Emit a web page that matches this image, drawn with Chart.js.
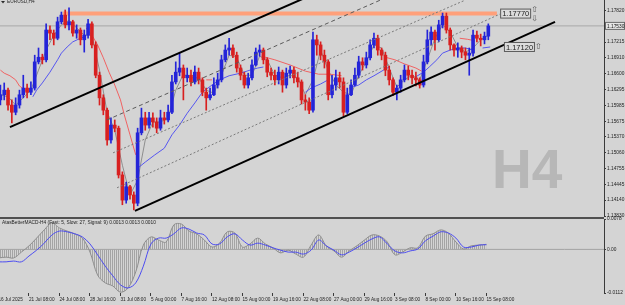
<!DOCTYPE html>
<html>
<head>
<meta charset="utf-8">
<script src="https://cdn.jsdelivr.net/npm/chart.js@4.4.1/dist/chart.umd.min.js"></script>
<style>
  html, body { margin: 0; padding: 0; background: #d4d4d4; }
  #wrap { position: relative; width: 625px; height: 305px; overflow: hidden; background: #d4d4d4; }
  #price { position: absolute; left: 0; top: 0; }
  #macd { position: absolute; left: 0; top: 216px; }
</style>
</head>
<body>
<div id="wrap">
  <canvas id="price" width="625" height="220"></canvas>
  <canvas id="macd" width="625" height="89"></canvas>
</div>
<script>
// EURUSD H4 candles, one candle here = two H4 bars (bar index 2*i+1)
var opens = [
  1.1609, 1.1619, 1.1628, 1.1599, 1.1585, 1.1599, 1.1619, 1.1632, 1.1624, 1.1632,
  1.1683, 1.1692, 1.1687, 1.1745, 1.1739, 1.1729, 1.1761, 1.1774, 1.1755, 1.1761,
  1.1739, 1.1745, 1.1726, 1.1735, 1.1757, 1.1716, 1.1657, 1.1613, 1.1589, 1.1531,
  1.1560, 1.1554, 1.1463, 1.1414, 1.1440, 1.1424, 1.1408, 1.1545, 1.1574, 1.1560,
  1.1574, 1.1566, 1.1554, 1.1574, 1.1570, 1.1585, 1.1644, 1.1663, 1.1671, 1.1652,
  1.1657, 1.1644, 1.1663, 1.1648, 1.1624, 1.1613, 1.1619, 1.1638, 1.1648, 1.1687,
  1.1706, 1.1710, 1.1696, 1.1671, 1.1657, 1.1638, 1.1652, 1.1677, 1.1702, 1.1706,
  1.1687, 1.1663, 1.1657, 1.1648, 1.1663, 1.1638, 1.1661, 1.1667, 1.1652, 1.1644,
  1.1609, 1.1605, 1.1589, 1.1726, 1.1716, 1.1696, 1.1683, 1.1619, 1.1638, 1.1652,
  1.1644, 1.1585, 1.1619, 1.1638, 1.1657, 1.1683, 1.1677, 1.1691, 1.1716, 1.1729,
  1.1706, 1.1696, 1.1667, 1.1648, 1.1624, 1.1632, 1.1648, 1.1667, 1.1657, 1.1652,
  1.1648, 1.1638, 1.1683, 1.1726, 1.1741, 1.1726, 1.1755, 1.1772, 1.1745, 1.1716,
  1.1706, 1.1710, 1.1702, 1.1696, 1.1700, 1.1735, 1.1729, 1.1726, 1.1733
];
var highs = [
  1.1638, 1.1642, 1.1632, 1.1609, 1.1613, 1.1628, 1.1657, 1.1640, 1.1644, 1.1696,
  1.1710, 1.1698, 1.1757, 1.1753, 1.1745, 1.1770, 1.1780, 1.1784, 1.1788, 1.1764,
  1.1755, 1.1749, 1.1745, 1.1766, 1.1761, 1.1722, 1.1663, 1.1619, 1.1593, 1.1574,
  1.1570, 1.1558, 1.1469, 1.1449, 1.1443, 1.1430, 1.1554, 1.1593, 1.1585, 1.1585,
  1.1584, 1.1574, 1.1589, 1.1585, 1.1599, 1.1657, 1.1683, 1.1700, 1.1677, 1.1671,
  1.1667, 1.1675, 1.1671, 1.1652, 1.1632, 1.1632, 1.1652, 1.1661, 1.1696, 1.1716,
  1.1729, 1.1716, 1.1702, 1.1677, 1.1663, 1.1661, 1.1687, 1.1710, 1.1716, 1.1710,
  1.1691, 1.1671, 1.1667, 1.1673, 1.1667, 1.1671, 1.1675, 1.1673, 1.1663, 1.1648,
  1.1619, 1.1613, 1.1741, 1.1735, 1.1722, 1.1706, 1.1687, 1.1657, 1.1667, 1.1663,
  1.1652, 1.1632, 1.1648, 1.1671, 1.1694, 1.1691, 1.1702, 1.1726, 1.1739, 1.1735,
  1.1710, 1.1702, 1.1675, 1.1652, 1.1638, 1.1657, 1.1677, 1.1675, 1.1667, 1.1663,
  1.1652, 1.1696, 1.1745, 1.1751, 1.1745, 1.1764, 1.1778, 1.1778, 1.1749, 1.1718,
  1.1720, 1.1714, 1.1710, 1.1710, 1.1745, 1.1743, 1.1737, 1.1741, 1.1757
];
var lows = [
  1.1599, 1.1609, 1.1589, 1.1564, 1.1580, 1.1593, 1.1613, 1.1613, 1.1619, 1.1628,
  1.1679, 1.1679, 1.1683, 1.1726, 1.1716, 1.1726, 1.1757, 1.1749, 1.1745, 1.1733,
  1.1729, 1.1716, 1.1702, 1.1729, 1.1710, 1.1652, 1.1599, 1.1580, 1.1521, 1.1525,
  1.1547, 1.1457, 1.1405, 1.1408, 1.1416, 1.1395, 1.1403, 1.1541, 1.1550, 1.1554,
  1.1556, 1.1545, 1.1550, 1.1562, 1.1566, 1.1582, 1.1640, 1.1656, 1.1609, 1.1644,
  1.1636, 1.1640, 1.1640, 1.1617, 1.1589, 1.1609, 1.1617, 1.1632, 1.1644, 1.1683,
  1.1696, 1.1691, 1.1663, 1.1648, 1.1632, 1.1632, 1.1648, 1.1675, 1.1694, 1.1679,
  1.1654, 1.1648, 1.1638, 1.1640, 1.1624, 1.1632, 1.1652, 1.1642, 1.1634, 1.1601,
  1.1589, 1.1582, 1.1585, 1.1696, 1.1687, 1.1671, 1.1609, 1.1613, 1.1628, 1.1632,
  1.1578, 1.1582, 1.1617, 1.1636, 1.1652, 1.1667, 1.1671, 1.1687, 1.1710, 1.1696,
  1.1687, 1.1656, 1.1638, 1.1617, 1.1609, 1.1624, 1.1644, 1.1648, 1.1640, 1.1636,
  1.1632, 1.1634, 1.1679, 1.1716, 1.1706, 1.1722, 1.1749, 1.1739, 1.1706, 1.1694,
  1.1692, 1.1691, 1.1687, 1.1657, 1.1694, 1.1722, 1.1714, 1.1718, 1.1726
];
var closes = [
  1.1619, 1.1628, 1.1599, 1.1585, 1.1599, 1.1619, 1.1632, 1.1624, 1.1632, 1.1683,
  1.1692, 1.1687, 1.1745, 1.1739, 1.1729, 1.1761, 1.1774, 1.1755, 1.1761, 1.1739,
  1.1745, 1.1726, 1.1735, 1.1757, 1.1716, 1.1657, 1.1613, 1.1589, 1.1531, 1.1560,
  1.1554, 1.1463, 1.1414, 1.1440, 1.1424, 1.1408, 1.1545, 1.1574, 1.1560, 1.1574,
  1.1566, 1.1554, 1.1574, 1.1570, 1.1585, 1.1644, 1.1663, 1.1671, 1.1652, 1.1657,
  1.1644, 1.1663, 1.1648, 1.1624, 1.1613, 1.1619, 1.1638, 1.1648, 1.1687, 1.1706,
  1.1710, 1.1696, 1.1671, 1.1657, 1.1638, 1.1652, 1.1677, 1.1702, 1.1706, 1.1687,
  1.1663, 1.1657, 1.1648, 1.1663, 1.1638, 1.1661, 1.1667, 1.1652, 1.1644, 1.1609,
  1.1605, 1.1589, 1.1726, 1.1716, 1.1696, 1.1683, 1.1619, 1.1638, 1.1652, 1.1644,
  1.1585, 1.1619, 1.1638, 1.1657, 1.1683, 1.1677, 1.1691, 1.1716, 1.1729, 1.1706,
  1.1696, 1.1667, 1.1648, 1.1624, 1.1632, 1.1648, 1.1667, 1.1657, 1.1652, 1.1648,
  1.1638, 1.1683, 1.1726, 1.1741, 1.1726, 1.1755, 1.1772, 1.1745, 1.1716, 1.1706,
  1.1710, 1.1702, 1.1696, 1.1700, 1.1735, 1.1729, 1.1726, 1.1733, 1.1753
];

// fast MA (gray), one value every 4 bars starting at bar 1
var grayMa = [
  1.1619, 1.1615, 1.1599, 1.1613, 1.1628, 1.1667, 1.1706, 1.1735, 1.1755, 1.1764,
  1.1749, 1.1735, 1.1735, 1.1667, 1.1585, 1.1550, 1.1482, 1.1424, 1.1453, 1.1531,
  1.1566, 1.1566, 1.1574, 1.1628, 1.1659, 1.1652, 1.1652, 1.1628, 1.1622, 1.1657,
  1.1696, 1.1692, 1.1657, 1.1657, 1.1694, 1.1687, 1.1657, 1.1652, 1.1657, 1.1652,
  1.1619, 1.1648, 1.1706, 1.1667, 1.1638, 1.1624, 1.1619, 1.1657, 1.1683, 1.1716,
  1.1710, 1.1671, 1.1634, 1.1648, 1.1657, 1.1648, 1.1687, 1.1729, 1.1755, 1.1741,
  1.1712, 1.1702, 1.1710, 1.1726, 1.1735
];

// blue and red indicator lines, shown only in pieces: [bar, price]
var blueMa = [
  [[18, 1.1615], [20, 1.1628], [23, 1.1642], [27, 1.1663], [31, 1.1687], [33, 1.1700], [36, 1.1712], [39, 1.1722], [43, 1.1729], [46, 1.1733]],
  [[73, 1.1476], [77, 1.1488], [82, 1.1502], [87, 1.1515], [91, 1.1541], [95, 1.1560], [99, 1.1583], [103, 1.1603], [107, 1.1624], [112, 1.1638], [116, 1.1648], [121, 1.1656], [127, 1.1661], [132, 1.1667], [136, 1.1671], [139, 1.1673]],
  [[161, 1.1624], [164, 1.1632], [169, 1.1640], [173, 1.1648]],
  [[184, 1.1632], [189, 1.1638], [193, 1.1648], [197, 1.1656], [202, 1.1667], [205, 1.1673]],
  [[219, 1.1654], [223, 1.1663], [226, 1.1673], [230, 1.1687], [233, 1.1700], [237, 1.1706], [241, 1.1710], [245, 1.1710], [249, 1.1706]],
  [[254, 1.1710], [258, 1.1712]]
];
var redMa = [
  [[1, 1.1667], [3, 1.1661], [6, 1.1656], [9, 1.1648], [11, 1.1636], [15, 1.1626]],
  [[46, 1.1749], [49, 1.1735], [52, 1.1716], [55, 1.1691], [58, 1.1663], [61, 1.1638], [64, 1.1609], [66, 1.1580], [69, 1.1541], [72, 1.1502]],
  [[109, 1.1648], [112, 1.1648]],
  [[138, 1.1694], [145, 1.1687], [153, 1.1677], [161, 1.1665], [168, 1.1659], [174, 1.1659], [180, 1.1656]],
  [[203, 1.1692], [208, 1.1687], [213, 1.1679], [219, 1.1671], [222, 1.1665]],
  [[242, 1.1729], [246, 1.1727], [250, 1.1724]]
];

// trend lines drawn on the chart: [bar, price] end points
var channelUpper = [[6.0, 1.1556], [164.2, 1.1813]];
var channelLower = [[71.6, 1.1393], [292.0, 1.1761]];
var dashMid = [[56.9, 1.1570], [200.2, 1.1803]];
var dotUpper = [[60.1, 1.1506], [244.8, 1.1803]];
var dotLower = [[62.2, 1.1438], [263.1, 1.1776]];
var resistanceLine = [[33.8, 1.1777], [261.5, 1.1777]];

var resistance = 1.17770;
var support = 1.17120;
var lastPrice = 1.17530;

var priceTicks = [1.17820, 1.17215, 1.16910, 1.16600, 1.16295, 1.15985, 1.15675,
  1.15370, 1.15060, 1.14755, 1.14445, 1.14140, 1.13830];

var dateLabels = ['16 Jul 2025', '21 Jul 08:00', '24 Jul 08:00', '28 Jul 16:00', '31 Jul 08:00',
  '5 Aug 00:00', '7 Aug 16:00', '12 Aug 08:00', '15 Aug 00:00', '19 Aug 16:00', '22 Aug 08:00',
  '27 Aug 00:00', '29 Aug 16:00', '3 Sep 08:00', '8 Sep 00:00', '10 Sep 16:00', '15 Sep 08:00'];

// MACD (5, 27, 9), one value every 4 bars starting at bar 0
var macdMain = [
  -0.0022, -0.0020, -0.0022, -0.0007, 0.0009, 0.0029, 0.0050, 0.0068, 0.0055, 0.0047,
  0.0040, 0.0029, -0.0007, -0.0066, -0.0086, -0.0094, -0.0110, -0.0099, -0.0058, 0.0011,
  0.0032, 0.0024, 0.0019, 0.0063, 0.0065, 0.0047, 0.0040, 0.0024, 0.0006, 0.0016,
  0.0045, 0.0042, 0.0006, 0.0014, 0.0029, 0.0014, 0.0004, -0.0009, -0.0002, -0.0012,
  -0.0020, 0.0011, 0.0037, 0.0009, -0.0004, -0.0020, -0.0004, 0.0009, 0.0024, 0.0037,
  0.0034, 0.0019, -0.0014, -0.0007, 0.0004, 0.0004, 0.0034, 0.0040, 0.0050, 0.0042,
  0.0019, 0.0001, 0.0009, 0.0011, 0.0013
];
var macdSignal = [
  -0.0032, -0.0032, -0.0030, -0.0032, -0.0017, -0.0002, 0.0016, 0.0037, 0.0047, 0.0045,
  0.0040, 0.0032, 0.0014, -0.0014, -0.0043, -0.0068, -0.0091, -0.0099, -0.0086, -0.0043,
  0.0014, 0.0029, 0.0029, 0.0040, 0.0055, 0.0052, 0.0042, 0.0037, 0.0014, 0.0014,
  0.0032, 0.0040, 0.0024, 0.0011, 0.0016, 0.0011, 0.0004, -0.0002, -0.0007, -0.0007,
  -0.0012, -0.0002, 0.0024, 0.0009, -0.0002, -0.0014, -0.0007, 0.0004, 0.0016, 0.0027,
  0.0032, 0.0014, -0.0004, -0.0009, -0.0004, 0.0001, 0.0022, 0.0034, 0.0045, 0.0042,
  0.0029, 0.0006, 0.0006, 0.0011, 0.0012
];

var xMin = 0.787, xMax = 317.7;
var fontFamily = "'Liberation Sans Narrow','Liberation Sans',Arial,sans-serif";
var priceFont = { family: fontFamily, size: 4.8 };
var dateFont = { family: fontFamily, size: 4.7 };
var textColor = '#1e1e1e';
var axisColor = '#3a3a3a';
var bull = '#2424d8';
var bear = '#d82020';

function pairs(list) {
  return list.map(function (p) { return { x: p[0], y: p[1] }; });
}

function pieces(segs) {
  var out = [];
  segs.forEach(function (seg, i) {
    if (i > 0) out.push({ x: seg[0][0] - 0.5, y: null });
    seg.forEach(function (p) { out.push({ x: p[0], y: p[1] }); });
  });
  return out;
}

function lineSet(data, color, width, order, dash) {
  return {
    type: 'line', data: data, borderColor: color, borderWidth: width,
    borderDash: dash || [], pointRadius: 0, fill: false, order: order, spanGaps: false
  };
}

var candleColors = closes.map(function (c, i) { return c >= opens[i] ? bull : bear; });

// text, labels and the H4 watermark
var priceDecor = {
  id: 'priceDecor',
  beforeDatasetsDraw: function (chart) {
    var ctx = chart.ctx;
    ctx.save();
    ctx.font = 'bold 55px "Liberation Sans", Arial, sans-serif';
    ctx.fillStyle = '#b7b7b7';
    ctx.textBaseline = 'alphabetic';
    ctx.fillText('H4', 492, 188);
    ctx.restore();
  },
  afterDraw: function (chart) {
    var ctx = chart.ctx;
    var xs = chart.scales.x, ys = chart.scales.y;
    ctx.save();
    // symbol title
    ctx.fillStyle = '#2a2a2a';
    ctx.beginPath();
    ctx.moveTo(1, 1); ctx.lineTo(5, 1); ctx.lineTo(3, 3.5); ctx.closePath(); ctx.fill();
    ctx.font = '4.8px ' + fontFamily;
    ctx.textBaseline = 'middle';
    ctx.fillText('EURUSD,H4', 7, 2);

    // price level boxes
    var boxes = [
      { price: resistance, bar: 263.2, up: true, down: true },
      { price: support, bar: 265.2, up: true, down: false }
    ];
    boxes.forEach(function (b) {
      var y = ys.getPixelForValue(b.price);
      var x = xs.getPixelForValue(b.bar);
      ctx.fillStyle = '#dcdcdc';
      ctx.fillRect(x, y - 4.5, 31, 9);
      ctx.strokeStyle = '#5a5a5a';
      ctx.lineWidth = 1;
      ctx.strokeRect(x + 0.5, y - 4.5, 30, 9);
      ctx.fillStyle = '#222';
      ctx.font = '7.5px "Liberation Sans", Arial, sans-serif';
      ctx.textBaseline = 'middle';
      ctx.textAlign = 'left';
      ctx.fillText(b.price.toFixed(5), x + 2, y + 0.5);
      ctx.font = '8px "DejaVu Sans", sans-serif';
      ctx.fillStyle = '#555';
      if (b.up) ctx.fillText('\u21E7', x + 31, b.down ? y - 4 : y);
      if (b.down) ctx.fillText('\u21E9', x + 31, y + 5);
    });

    // current price on the axis
    var yp = ys.getPixelForValue(lastPrice);
    ctx.fillStyle = '#e6e6e6';
    ctx.fillRect(605, yp - 3.5, 20, 7);
    ctx.strokeStyle = '#6a6a6a';
    ctx.strokeRect(605.5, yp - 3.5, 19, 7);
    ctx.fillStyle = '#111';
    ctx.font = priceFont.size + 'px ' + fontFamily;
    ctx.textBaseline = 'middle';
    ctx.fillText(lastPrice.toFixed(5), 607, yp + 0.5);
    ctx.restore();
  }
};

new Chart(document.getElementById('price'), {
  type: 'bar',
  data: {
    datasets: [
      {
        type: 'bar', label: 'body',
        data: closes.map(function (c, i) { return { x: 2 * i + 1, y: [opens[i], c] }; }),
        backgroundColor: candleColors, barThickness: 3, minBarLength: 1, grouped: false, order: 1
      },
      {
        type: 'bar', label: 'wick',
        data: highs.map(function (h, i) { return { x: 2 * i + 1, y: [lows[i], h] }; }),
        backgroundColor: candleColors, barThickness: 1, grouped: false, order: 2
      },
      lineSet(grayMa.map(function (v, k) { return { x: 4 * k + 1, y: v }; }), '#8e8e8e', 1, 6),
      lineSet(pieces(blueMa), '#5656f0', 1, 5),
      lineSet(pieces(redMa), '#f06262', 1, 5),
      lineSet(pairs(resistanceLine), '#ffa07a', 4, 4),
      lineSet([{ x: xMin, y: lastPrice }, { x: xMax, y: lastPrice }], '#a8a8a8', 1, 8),
      lineSet(pairs(channelUpper), '#000000', 2, 0),
      lineSet(pairs(channelLower), '#000000', 2, 0),
      lineSet(pairs(dashMid), '#5a5a5a', 1, 0, [4, 3]),
      lineSet(pairs(dotUpper), '#7a7a7a', 1, 0, [2, 2]),
      lineSet(pairs(dotLower), '#7a7a7a', 1, 0, [2, 2])
    ]
  },
  options: {
    responsive: false, animation: false, devicePixelRatio: 1,
    layout: { padding: { top: 0, bottom: 4, left: 0, right: 0 } },
    plugins: { legend: { display: false }, tooltip: { enabled: false } },
    scales: {
      x: { type: 'linear', min: xMin, max: xMax, display: false, offset: false },
      y: {
        type: 'linear', position: 'right', min: 1.13831, max: 1.18034, bounds: 'data',
        afterBuildTicks: function (s) { s.ticks = priceTicks.map(function (v) { return { value: v }; }); },
        afterFit: function (s) { s.width = 21; s.paddingTop = 0; s.paddingBottom = 0; },
        ticks: { font: priceFont, color: textColor, padding: 1, callback: function (v) { return v.toFixed(5); } },
        grid: { drawOnChartArea: false, tickLength: 2, color: axisColor },
        border: { color: axisColor }
      }
    }
  },
  plugins: [priceDecor]
});

// MACD panel
var pc = document.createElement('canvas');
pc.width = 2; pc.height = 1;
var pctx = pc.getContext('2d');
pctx.fillStyle = '#a4a4a4';
pctx.fillRect(0, 0, 1, 1);
var hatch = pctx.createPattern(pc, 'repeat');

var macdDecor = {
  id: 'macdDecor',
  beforeDraw: function (chart) {
    var ctx = chart.ctx;
    ctx.save();
    ctx.fillStyle = '#505050';
    ctx.fillRect(0, 1, 604, 2);
    ctx.restore();
  },
  afterDraw: function (chart) {
    var ctx = chart.ctx;
    ctx.save();
    ctx.fillStyle = textColor;
    ctx.font = '4.8px ' + fontFamily;
    ctx.textBaseline = 'middle';
    ctx.fillText('AtasBetterMACD-H4 (Fast: 5, Slow: 27, Signal: 9) 0.0013 0.0013 0.0010', 2, 6.5);
    ctx.restore();
  }
};

new Chart(document.getElementById('macd'), {
  type: 'line',
  data: {
    datasets: [
      lineSet(macdSignal.map(function (v, k) { return { x: 4 * k, y: v }; }), '#4c4cf0', 1, 0),
      Object.assign(lineSet(macdMain.map(function (v, k) { return { x: 4 * k, y: v }; }), '#8e8e8e', 1, 1),
        { fill: 'origin', backgroundColor: hatch }),
      lineSet([{ x: xMin, y: 0 }, { x: xMax, y: 0 }], '#a2a2a2', 1, 2)
    ]
  },
  options: {
    responsive: false, animation: false, devicePixelRatio: 1,
    layout: { padding: { top: 3, bottom: 0, left: 0, right: 0 } },
    plugins: { legend: { display: false }, tooltip: { enabled: false } },
    elements: { line: { tension: 0.35 } },
    scales: {
      x: {
        type: 'linear', min: xMin, max: xMax, position: 'bottom',
        afterBuildTicks: function (s) { s.ticks = dateLabels.map(function (_, i) { return { value: 16 * i }; }); },
        afterFit: function (s) { s.height = 12; s.paddingLeft = 0; s.paddingRight = 0; },
        ticks: {
          autoSkip: false, maxRotation: 0, minRotation: 0, align: 'start', font: dateFont,
          color: textColor, padding: 1,
          callback: function (v, i) { return dateLabels[i]; }
        },
        grid: { drawOnChartArea: false, tickLength: 3, color: axisColor },
        border: { display: false }
      },
      y: {
        type: 'linear', position: 'right', min: -0.0112, max: 0.0078, bounds: 'data',
        afterBuildTicks: function (s) { s.ticks = [{ value: 0.0078 }, { value: 0 }, { value: -0.0112 }]; },
        afterFit: function (s) { s.width = 21; s.paddingTop = 0; s.paddingBottom = 0; },
        ticks: {
          font: priceFont, color: textColor, padding: 1,
          callback: function (v) { return v === 0 ? '0.00' : v.toFixed(4); }
        },
        grid: { drawOnChartArea: false, tickLength: 2, color: axisColor },
        border: { color: axisColor }
      }
    }
  },
  plugins: [macdDecor]
});
</script>
</body>
</html>
